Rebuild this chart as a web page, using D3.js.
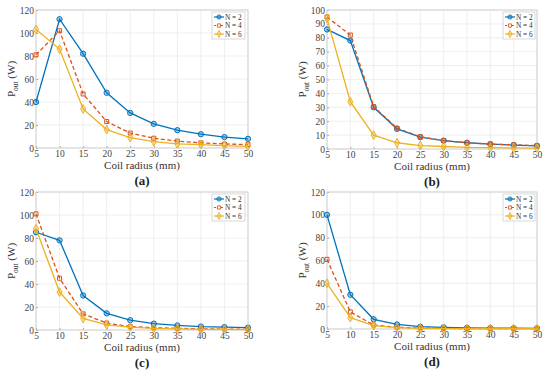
<!DOCTYPE html>
<html>
<head>
<meta charset="UTF-8">
<script src="https://d3js.org/d3.v7.min.js"></script>
<style>
    body { margin: 0; background: #fff; }
    .grid line { stroke: #e8e8e8; stroke-width: 0.7px; }
    .frame { fill: none; stroke: #c8c8c8; stroke-width: 0.8px; }
</style>
</head>
<body>
<div id="chart"></div>
<script>
    // x values (coil radius, mm)
    const radius = [5, 10, 15, 20, 25, 30, 35, 40, 45, 50];
    const seriesNames = ["N = 2", "N = 4", "N = 6"];

    // panel (a)
    const a_n2 = [40, 112, 82, 48, 30.5, 21, 15.5, 12, 9.5, 8];
    const a_n4 = [81, 102, 47, 23, 13, 8.5, 6, 4.5, 3.5, 3];
    const a_n6 = [103, 86, 34, 16, 9, 5.5, 3.5, 3, 2, 1.5];
    // panel (b)
    const b_n2 = [86, 78, 30, 14.5, 8.5, 6, 4.5, 3.5, 2.8, 2.3];
    const b_n4 = [95, 82, 30.5, 15, 8.8, 6, 4.5, 3.5, 3, 2.5];
    const b_n6 = [94, 34, 10, 4.5, 2.5, 1.8, 1.2, 1, 0.8, 0.7];
    // panel (c)
    const c_n2 = [85, 78, 30, 14.5, 8.5, 5.5, 4, 3, 2.5, 2];
    const c_n4 = [101, 45, 14, 6, 3, 2, 1.5, 1, 0.8, 0.6];
    const c_n6 = [88, 33, 10, 4.5, 2.5, 1.5, 1, 0.6, 0.5, 0.4];
    // panel (d)
    const d_n2 = [100, 30, 8.5, 4, 2, 1.5, 1, 0.8, 0.7, 0.6];
    const d_n4 = [61, 15, 3.5, 1.5, 0.8, 0.5, 0.4, 0.3, 0.3, 0.3];
    const d_n6 = [40, 10, 3, 1.2, 0.6, 0.4, 0.3, 0.2, 0.2, 0.2];

    const yTicks120 = [0, 20, 40, 60, 80, 100, 120];
    const yTicks100 = [0, 10, 20, 30, 40, 50, 60, 70, 80, 90, 100];

    const colors = ["#0072BD", "#D95319", "#EDB120"];
    const dashes = [null, "4,2.5", null];
    const symbols = [d3.symbolCircle, d3.symbolSquare, d3.symbolDiamond];
    const font = "'Liberation Serif', 'DejaVu Serif', serif";

    const svg = d3.select("#chart").append("svg")
        .attr("width", 550).attr("height", 377);

    const panels = [
        {label: "a", data: [a_n2, a_n4, a_n6], yMax: 120, ticks: yTicks120,
         left: 36, right: 248, top: 10, bottom: 148, legend: [212, 12, 33]},
        {label: "b", data: [b_n2, b_n4, b_n6], yMax: 100, ticks: yTicks100,
         left: 327, right: 537, top: 10, bottom: 149, legend: [503, 12, 32]},
        {label: "c", data: [c_n2, c_n4, c_n6], yMax: 120, ticks: yTicks120,
         left: 36, right: 248, top: 192, bottom: 330, legend: [212, 194, 33]},
        {label: "d", data: [d_n2, d_n4, d_n6], yMax: 120, ticks: yTicks120,
         left: 327, right: 537, top: 192, bottom: 329, legend: [503, 194, 32]}
    ];

    panels.forEach(drawPanel);

    function drawPanel(p) {
        const x = d3.scaleLinear().domain([5, 50]).range([p.left, p.right]);
        const y = d3.scaleLinear().domain([0, p.yMax]).range([p.bottom, p.top]);
        const g = svg.append("g");

        // grid
        const grid = g.append("g").attr("class", "grid");
        grid.selectAll(".gx").data(radius).enter().append("line")
            .attr("x1", d => x(d)).attr("x2", d => x(d))
            .attr("y1", p.top).attr("y2", p.bottom);
        grid.selectAll(".gy").data(p.ticks).enter().append("line")
            .attr("x1", p.left).attr("x2", p.right)
            .attr("y1", d => y(d)).attr("y2", d => y(d));

        // axes (ticks inside, matlab style)
        const xAxis = g.append("g").attr("transform", `translate(0,${p.bottom})`)
            .call(d3.axisBottom(x).tickValues(radius).tickSize(-2).tickPadding(2));
        const yAxis = g.append("g").attr("transform", `translate(${p.left},0)`)
            .call(d3.axisLeft(y).tickValues(p.ticks).tickSize(-2).tickPadding(2));
        [xAxis, yAxis].forEach(ax => {
            ax.attr("font-family", null);
            ax.select(".domain").remove();
            ax.selectAll("line").attr("stroke", "#aaa");
            ax.selectAll("text").style("font-family", font)
                .style("font-size", "9.5px").attr("fill", "#444");
        });

        g.append("rect").attr("class", "frame")
            .attr("x", p.left).attr("y", p.top)
            .attr("width", p.right - p.left).attr("height", p.bottom - p.top);

        // lines + markers
        const line = d3.line().x((d, i) => x(radius[i])).y(d => y(d));
        p.data.forEach((vals, s) => {
            g.append("path").datum(vals)
                .attr("d", line)
                .attr("fill", "none")
                .attr("stroke", colors[s])
                .attr("stroke-width", 1.3)
                .attr("stroke-dasharray", dashes[s]);
            g.selectAll(".m" + s).data(vals).enter().append("path")
                .attr("d", d3.symbol().type(symbols[s]).size(s === 1 ? 16 : 22))
                .attr("transform", (d, i) => `translate(${x(radius[i])},${y(d)})`)
                .attr("fill", s === 1 ? "none" : colors[s])
                .attr("fill-opacity", s === 1 ? 1 : 0.35)
                .attr("stroke", colors[s])
                .attr("stroke-width", 1);
        });

        // axis labels
        g.append("text")
            .attr("x", (p.left + p.right) / 2).attr("y", p.bottom + 21)
            .attr("text-anchor", "middle")
            .style("font-family", font).style("font-size", "11px").attr("fill", "#333")
            .text("Coil radius (mm)");
        const yl = g.append("text")
            .attr("transform", `translate(${p.left - 21},${(p.top + p.bottom) / 2}) rotate(-90)`)
            .attr("text-anchor", "middle")
            .style("font-family", font).style("font-size", "11px").attr("fill", "#333");
        yl.append("tspan").text("P");
        yl.append("tspan").attr("dy", 3).style("font-size", "7.5px").text("out");
        yl.append("tspan").attr("dy", -3).text(" (W)");

        // caption
        g.append("text")
            .attr("x", (p.left + p.right) / 2).attr("y", p.bottom + 37)
            .attr("text-anchor", "middle")
            .style("font-family", font).style("font-size", "13px")
            .style("font-weight", "bold").attr("fill", "#222")
            .text("(" + p.label + ")");

        // legend
        const [lx, ly, lw] = p.legend;
        const lg = g.append("g");
        lg.append("rect").attr("x", lx).attr("y", ly).attr("width", lw).attr("height", 27)
            .attr("fill", "#fff").attr("stroke", "#c8c8c8").attr("stroke-width", 0.7);
        seriesNames.forEach((name, s) => {
            const cy = ly + 5 + s * 8.5;
            lg.append("line").attr("x1", lx + 2).attr("x2", lx + 12)
                .attr("y1", cy).attr("y2", cy)
                .attr("stroke", colors[s]).attr("stroke-width", 1.2)
                .attr("stroke-dasharray", s === 1 ? "2,1.5" : null);
            lg.append("path")
                .attr("d", d3.symbol().type(symbols[s]).size(s === 1 ? 10 : 14))
                .attr("transform", `translate(${lx + 7},${cy})`)
                .attr("fill", s === 1 ? "#fff" : colors[s]).attr("fill-opacity", s === 1 ? 1 : 0.35)
                .attr("stroke", colors[s]).attr("stroke-width", 0.9);
            lg.append("text").attr("x", lx + 13).attr("y", cy + 2.6)
                .style("font-family", font).style("font-size", "7.3px").attr("fill", "#333")
                .text(name);
        });
    }
</script>
</body>
</html>
